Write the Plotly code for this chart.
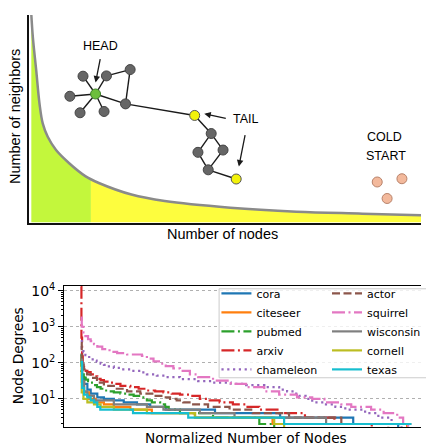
import numpy as np
import plotly.graph_objects as go

W, H = 426, 445

# ---------------- top illustration (long-tail sketch) ----------------
curve_x = [2.2, 3.8, 7.2, 10.5, 13.8, 18.8, 27.2, 40.5, 57.2, 70.5, 103.5, 137.2, 203.5, 270.5, 337.2, 396.5]
curve_y = [210, 186.7, 153.3, 120, 100, 86.7, 73.3, 60, 46.7, 40, 28.3, 21.7, 15, 11, 9, 7.3]
head_cut = 62.5

gray_nodes_x = [41.2, 54.5, 78.2, 102.2, 51.5, 75.8, 97.5, 184.2, 170.8, 196.2, 181.2]
gray_nodes_y = [127.7, 148, 148.3, 154.7, 111, 112.3, 120, 90, 71, 73.3, 53.3]
hub_x, hub_y = [67.2], [130]
tail_nodes_x = [167.5, 209.5]
tail_nodes_y = [108.3, 44]
cold_nodes_x = [352.2, 377.2, 362.2]
cold_nodes_y = [41, 44.3, 24.3]
# edges as pairs of (x, y) endpoints
edge_list = [
    ((67.2, 130), (41.2, 127.7)), ((67.2, 130), (54.5, 148)), ((67.2, 130), (78.2, 148.3)),
    ((67.2, 130), (51.5, 111)), ((67.2, 130), (75.8, 112.3)), ((67.2, 130), (97.5, 120)),
    ((78.2, 148.3), (102.2, 154.7)), ((102.2, 154.7), (97.5, 120)), ((97.5, 120), (167.5, 108.3)),
    ((167.5, 108.3), (184.2, 90)), ((184.2, 90), (170.8, 71)), ((184.2, 90), (196.2, 73.3)),
    ((170.8, 71), (181.2, 53.3)), ((196.2, 73.3), (181.2, 53.3)), ((181.2, 53.3), (209.5, 44)),
]
labels_top = [("HEAD", 72.2, 178.3), ("TAIL", 219.5, 105), ("COLD", 359.3, 86), ("START", 361, 67)]
arrows_top = [((67.2, 141.7), (72.2, 166.7)), ((177.2, 110), (200.5, 105)), ((212.2, 56.7), (218.8, 90))]

# ---------------- bottom chart: degree distributions ----------------
cora_x = [0, 0.004, 0.01, 0.02, 0.03, 0.05, 0.07, 0.1, 0.13, 0.17, 0.21, 0.257, 0.406, 0.603, 0.824, 0.96, 1.0]
cora_deg = [168, 40, 26, 18, 14, 11, 10, 9, 8, 7, 6, 5, 4, 3, 2, 1, 1]
citeseer_x = [0, 0.003, 0.01, 0.025, 0.045, 0.07, 0.1, 0.15, 0.215, 0.345, 0.58, 0.987, 1.0]
citeseer_deg = [99, 30, 15, 10, 8, 7, 6, 5, 4, 3, 2, 1, 1]
pubmed_x = [0, 0.002, 0.005, 0.009, 0.015, 0.022, 0.029, 0.038, 0.049, 0.06, 0.07, 0.085, 0.1, 0.12,
            0.14, 0.16, 0.18, 0.2, 0.215, 0.24, 0.255, 0.266, 0.3, 0.4, 0.54, 0.585, 1.0]
pubmed_deg = [171, 60, 48, 39, 34, 31, 28, 24, 21, 19, 17, 16, 15, 14, 13, 12, 11, 9, 8, 7, 6, 5, 4, 3, 2, 1, 1]
arxiv_x = [0, 0.002, 0.004, 0.006, 0.01, 0.015, 0.02, 0.03, 0.04, 0.05, 0.06, 0.07, 0.085, 0.1, 0.12, 0.15,
           0.175, 0.2, 0.225, 0.25, 0.275, 0.3, 0.33, 0.36, 0.39, 0.42, 0.46, 0.5, 0.54, 0.6, 0.678, 0.767, 0.88, 1.0]
arxiv_deg = [13161, 500, 150, 100, 68, 60, 55, 48, 42, 36, 33, 30, 28, 26, 23, 21, 19, 17, 16, 15, 14, 13, 12,
             10, 9, 8, 7, 6, 5, 4, 3, 2, 1, 1]
chameleon_x = [0, 0.003, 0.008, 0.014, 0.02, 0.03, 0.04, 0.048, 0.06, 0.07, 0.085, 0.1, 0.125, 0.155, 0.18, 0.2,
               0.23, 0.257, 0.3, 0.355, 0.4, 0.454, 0.5, 0.555, 0.6, 0.624, 0.645, 0.66, 0.68, 0.7, 0.738, 0.77,
               0.8, 0.86, 0.9, 0.94, 0.97, 1.0]
chameleon_deg = [400, 257, 200, 163, 145, 125, 115, 107, 95, 88, 80, 72, 66, 60, 54, 48, 44, 40, 35, 31, 28, 26,
                 24, 21, 18, 16, 14, 12, 10, 8, 7, 6, 5, 4, 3, 2, 1, 1]
actor_x = [0, 0.003, 0.009, 0.019, 0.03, 0.049, 0.07, 0.1, 0.14, 0.18, 0.22, 0.25, 0.27, 0.29, 0.31, 0.34, 0.385,
           0.45, 0.52, 0.63, 0.788, 0.93, 1.0]
actor_deg = [350, 100, 66, 48, 38, 28, 23, 19, 16, 14, 12, 11, 10, 9, 8, 7, 6, 5, 4, 3, 2, 1, 1]
squirrel_x = [0, 0.003, 0.008, 0.014, 0.022, 0.03, 0.04, 0.05, 0.065, 0.087, 0.11, 0.14, 0.185, 0.2, 0.22, 0.24,
              0.257, 0.28, 0.3, 0.33, 0.355, 0.4, 0.454, 0.5, 0.555, 0.6, 0.654, 0.7, 0.737, 0.788, 0.818, 0.878,
              0.916, 0.957, 0.975, 0.99, 1.0]
squirrel_deg = [1800, 1000, 700, 550, 450, 400, 330, 280, 240, 200, 185, 170, 155, 130, 110, 95, 81, 70, 60, 48,
                40, 32, 26, 21, 16, 13, 11, 10, 8, 7, 6, 5, 4, 3, 2, 1, 1]
wisconsin_x = [0, 0.004, 0.01, 0.02, 0.04, 0.1, 0.2, 0.25, 0.36, 0.465, 0.742, 1.0]
wisconsin_deg = [122, 30, 16, 12, 9, 7, 6, 5, 4, 3, 2, 2]
cornell_x = [0, 0.003, 0.008, 0.02, 0.04, 0.06, 0.1, 0.2, 0.346, 0.585, 0.615, 1.0]
cornell_deg = [94, 15, 10, 8, 7, 6, 5, 4, 3, 2, 1, 1]
texas_x = [0, 0.004, 0.01, 0.02, 0.03, 0.04, 0.05, 0.059, 0.158, 0.325, 0.615, 1.0]
texas_deg = [104, 20, 13, 11, 9, 8, 6, 5, 4, 3, 2, 2]

DASHDOT = "13px,3.5px,2px,3.5px"
series = [
    ("cora", cora_x, cora_deg, "#1f77b4", "solid", "legend"),
    ("citeseer", citeseer_x, citeseer_deg, "#ff7f0e", "solid", "legend"),
    ("pubmed", pubmed_x, pubmed_deg, "#2ca02c", DASHDOT, "legend"),
    ("arxiv", arxiv_x, arxiv_deg, "#d62728", DASHDOT, "legend"),
    ("chameleon", chameleon_x, chameleon_deg, "#9467bd", "2.2px,3.6px", "legend"),
    ("actor", actor_x, actor_deg, "#8c564b", "8px,3.5px", "legend2"),
    ("squirrel", squirrel_x, squirrel_deg, "#e377c2", DASHDOT, "legend2"),
    ("wisconsin", wisconsin_x, wisconsin_deg, "#7f7f7f", "solid", "legend2"),
    ("cornell", cornell_x, cornell_deg, "#bcbd22", "solid", "legend2"),
    ("texas", texas_x, texas_deg, "#17becf", "solid", "legend2"),
]


def pxx(p):
    return p / W


def pxy(p):
    return 1 - p / H


fig = go.Figure()

# ---- top panel traces ----
cx = np.array(curve_x)
cy = np.array(curve_y)
cut_y = float(np.interp(head_cut, cx, cy))
gmask = cx < head_cut
green_x = list(cx[gmask]) + [head_cut]
green_y = list(cy[gmask]) + [cut_y]
yel_x = [head_cut] + list(cx[~gmask])
yel_y = [cut_y] + list(cy[~gmask])

fig.add_trace(go.Scatter(x=green_x, y=green_y, xaxis="x2", yaxis="y2", mode="lines", line=dict(width=0, shape="spline"),
                         fill="tozeroy", fillcolor="#c3f73c", showlegend=False, hoverinfo="skip"))
fig.add_trace(go.Scatter(x=yel_x, y=yel_y, xaxis="x2", yaxis="y2", mode="lines", line=dict(width=0, shape="spline"),
                         fill="tozeroy", fillcolor="#fdfd3e", showlegend=False, hoverinfo="skip"))
fig.add_trace(go.Scatter(x=curve_x, y=curve_y, xaxis="x2", yaxis="y2", mode="lines",
                         line=dict(color="#8a8a8a", width=2.5, shape="spline"), showlegend=False, hoverinfo="skip"))

ex, ey = [], []
for (a, b) in edge_list:
    ex += [a[0], b[0], None]
    ey += [a[1], b[1], None]
fig.add_trace(go.Scatter(x=ex, y=ey, xaxis="x2", yaxis="y2", mode="lines",
                         line=dict(color="#1a1a1a", width=1.4), showlegend=False, hoverinfo="skip"))
fig.add_trace(go.Scatter(x=gray_nodes_x, y=gray_nodes_y, xaxis="x2", yaxis="y2", mode="markers",
                         marker=dict(size=10, color="#666666", line=dict(color="#444444", width=1)),
                         showlegend=False, hoverinfo="skip"))
fig.add_trace(go.Scatter(x=hub_x, y=hub_y, xaxis="x2", yaxis="y2", mode="markers",
                         marker=dict(size=10, color="#6cbf3c", line=dict(color="#3f7f2a", width=1)),
                         showlegend=False, hoverinfo="skip"))
fig.add_trace(go.Scatter(x=tail_nodes_x, y=tail_nodes_y, xaxis="x2", yaxis="y2", mode="markers",
                         marker=dict(size=10, color="#f2f20a", line=dict(color="#555555", width=1)),
                         showlegend=False, hoverinfo="skip"))
fig.add_trace(go.Scatter(x=cold_nodes_x, y=cold_nodes_y, xaxis="x2", yaxis="y2", mode="markers",
                         marker=dict(size=10, color="#f3b99c", line=dict(color="#b8826a", width=1)),
                         showlegend=False, hoverinfo="skip"))

# ---- bottom panel traces ----
for name, xs, ds, col, dash, lg in series:
    fig.add_trace(go.Scatter(x=xs, y=ds, name=name, mode="lines", legend=lg,
                             line=dict(color=col, width=2.2, dash=dash, shape="hv")))

annotations = []
for txt, x, y in labels_top:
    annotations.append(dict(x=x, y=y, xref="x2", yref="y2", text=txt, showarrow=False,
                            xanchor="center", yanchor="middle",
                            font=dict(family="Liberation Sans", size=12.5, color="black")))
for head, tail in arrows_top:
    annotations.append(dict(x=head[0], y=head[1], ax=tail[0], ay=tail[1], xref="x2", yref="y2",
                            axref="x2", ayref="y2", text="", showarrow=True, arrowhead=2, arrowsize=1,
                            arrowwidth=1.3, arrowcolor="#1a1a1a", standoff=0, startstandoff=0))
annotations += [
    dict(x=pxx(15), y=pxy(112.5), xref="paper", yref="paper", text="Number of neighbors", textangle=-90,
         xanchor="center", yanchor="middle", showarrow=False,
         font=dict(family="Liberation Sans", size=14.5, color="black")),
    dict(x=pxx(224.7), y=pxy(231.5), xref="paper", yref="paper", text="Number of nodes",
         xanchor="center", yanchor="middle", showarrow=False,
         font=dict(family="Liberation Sans", size=14.5, color="black")),
    dict(x=pxx(18.5), y=pxy(355), xref="paper", yref="paper", text="Node Degrees", textangle=-90,
         xanchor="center", yanchor="middle", showarrow=False,
         font=dict(family="DejaVu Sans", size=13.7, color="black")),
    dict(x=pxx(249), y=pxy(438), xref="paper", yref="paper", text="Normalized Number of Nodes",
         xanchor="center", yanchor="middle", showarrow=False,
         font=dict(family="DejaVu Sans", size=13.7, color="black")),
]

minor_vals = [m * 10 ** k for k in range(0, 5) for m in range(2, 10)]

fig.update_layout(
    width=W, height=H, margin=dict(l=0, r=0, t=0, b=0),
    paper_bgcolor="white", plot_bgcolor="rgba(0,0,0,0)",
    showlegend=True,
    xaxis=dict(domain=[pxx(65), 1.0], range=[-0.05, 1.029], showgrid=False, zeroline=False,
               showticklabels=False, ticks="", showline=True, mirror=True, linecolor="black", linewidth=1.2),
    yaxis=dict(domain=[pxy(427), pxy(284)], type="log", range=[0.212, 4.137], showline=True, mirror=False,
               linecolor="black", linewidth=1.2, ticks="outside", ticklen=5, tickwidth=1, tickcolor="black",
               tickmode="array", tickvals=[10, 100, 1000, 10000],
               ticktext=["10<sup>1</sup>", "10<sup>2</sup>", "10<sup>3</sup>", "10<sup>4</sup>"],
               tickfont=dict(family="DejaVu Sans", size=14, color="black"),
               showgrid=True, gridcolor="#b0b0b0", griddash="dot", gridwidth=1, zeroline=False,
               minor=dict(tickmode="array", tickvals=minor_vals, ticks="outside", ticklen=2.5,
                          tickwidth=0.8, tickcolor="black", showgrid=False)),
    xaxis2=dict(domain=[pxx(29.5), 1.0], range=[0, 396.5], anchor="y2", showgrid=False, zeroline=False,
                showticklabels=False, ticks="", showline=True, linecolor="#111111", linewidth=2),
    yaxis2=dict(domain=[pxy(220), pxy(10)], range=[0, 210], anchor="x2", showgrid=False, zeroline=False,
                showticklabels=False, ticks="", showline=True, linecolor="#111111", linewidth=2),
    legend=dict(x=pxx(219), y=pxy(277), xanchor="left", yanchor="top", bgcolor="rgba(0,0,0,0)",
                borderwidth=0, font=dict(family="DejaVu Sans", size=11, color="black"), tracegroupgap=0),
    legend2=dict(x=pxx(331), y=pxy(277), xanchor="left", yanchor="top", bgcolor="rgba(0,0,0,0)",
                 borderwidth=0, font=dict(family="DejaVu Sans", size=11, color="black"), tracegroupgap=0),
    shapes=[dict(type="rect", xref="paper", yref="paper", x0=pxx(221.7), x1=pxx(432), y0=pxy(377), y1=pxy(287),
                 line=dict(color="#cccccc", width=1), fillcolor="rgba(255,255,255,0.8)", layer="above")],
    annotations=annotations,
)

fig.write_html("out.html", config={"displayModeBar": False},
               post_script="document.body.style.margin='0';document.body.style.overflow='hidden';")
